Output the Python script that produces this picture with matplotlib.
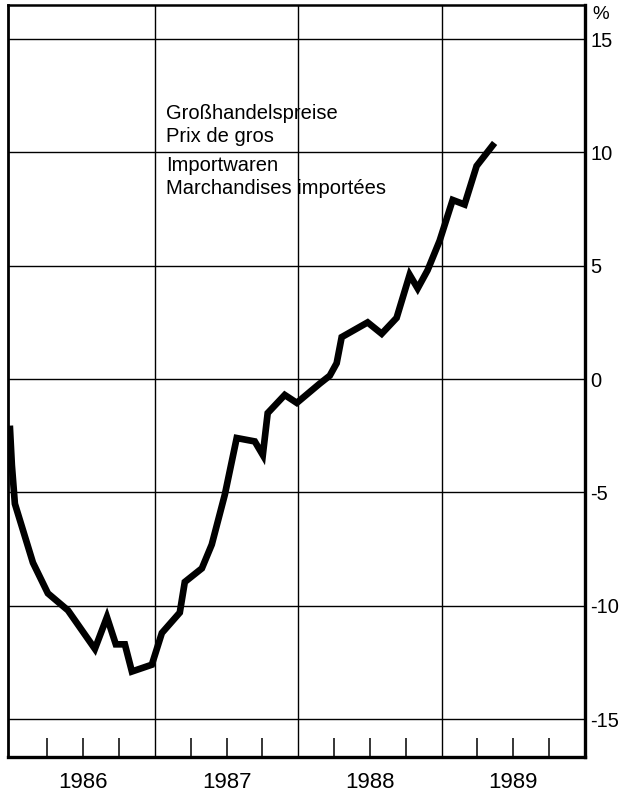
import matplotlib
matplotlib.use('Agg')
import matplotlib.pyplot as plt

plt.rcParams['font.family'] = ['Liberation Sans', 'DejaVu Sans']

# wholesale prices of imported goods, change vs. previous year (%)
dates = [1985.990, 1986.003, 1986.024, 1986.150, 1986.254, 1986.394, 1986.582,
         1986.666, 1986.728, 1986.791, 1986.840, 1986.979, 1987.049, 1987.174,
         1987.209, 1987.328, 1987.397, 1987.488, 1987.571, 1987.697, 1987.753,
         1987.787, 1987.906, 1987.990, 1988.150, 1988.220, 1988.268, 1988.303,
         1988.484, 1988.582, 1988.686, 1988.777, 1988.833, 1988.902, 1988.986,
         1989.077, 1989.160, 1989.244, 1989.355]
values = [-2.2, -3.8, -5.5, -8.1, -9.45, -10.2, -11.9,
          -10.5, -11.7, -11.7, -12.9, -12.6, -11.2, -10.3,
          -8.95, -8.35, -7.3, -5.1, -2.6, -2.75, -3.35,
          -1.5, -0.7, -1.05, -0.2, 0.15, 0.7, 1.85,
          2.5, 2.0, 2.7, 4.6, 4.0, 4.8, 6.1,
          7.9, 7.7, 9.4, 10.3]

years = [1986, 1987, 1988, 1989]
y_ticks = [-15, -10, -5, 0, 5, 10, 15]
y_labels = ['-15', '-10', '-5', '0', '5', '10', '15']
label_lines = ['Großhandelspreise', 'Prix de gros', 'Importwaren', 'Marchandises importées']

fig = plt.figure(figsize=(6.3, 7.96), dpi=100)
ax = fig.add_axes([0.0127, 0.049, 0.9159, 0.9447])

ax.plot(dates, values, color='black', linewidth=4.8, solid_joinstyle='miter', zorder=3)

ax.set_xlim(1985.976, 1990)
ax.set_ylim(-16.67, 16.5)

# year boundaries as grid, quarters as inward ticks
ax.set_xticks(years[1:])
ax.set_xticklabels([])
quarters = [y + q / 4 for y in years for q in (1, 2, 3)]
ax.set_xticks(quarters, minor=True)
ax.tick_params(axis='x', which='major', length=0)
ax.tick_params(axis='x', which='minor', direction='in', length=14, width=1.1, color='black')

ax.yaxis.tick_right()
ax.set_yticks(y_ticks)
ax.set_yticklabels(y_labels, fontsize=14.5, ha='left')
ax.tick_params(axis='y', length=0, pad=4)

ax.grid(True, which='major', color='black', linewidth=1.0)

for side, lw in [('left', 2.0), ('bottom', 2.4), ('right', 2.4), ('top', 1.8)]:
    ax.spines[side].set_linewidth(lw)
    ax.spines[side].set_color('black')

for y in years:
    ax.text(y + 0.5, -0.034, str(y), transform=ax.get_xaxis_transform(),
            ha='center', va='center', fontsize=16)

ax.text(1.012, 0.988, '%', transform=ax.transAxes, ha='left', va='center', fontsize=13.5)

text_y = [11.7, 10.7, 9.4, 8.4]
for line, ty in zip(label_lines, text_y):
    ax.text(1987.08, ty, line, ha='left', va='center', fontsize=14.5, zorder=4)

fig.savefig('out.png', dpi=100)
